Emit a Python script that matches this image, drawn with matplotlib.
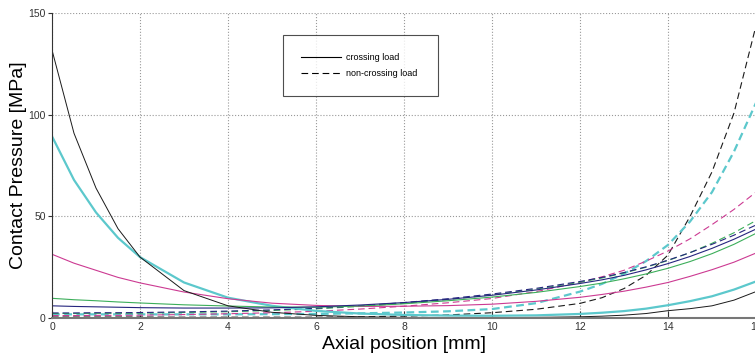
import matplotlib
matplotlib.use("Agg")
import matplotlib.pyplot as plt
from matplotlib.lines import Line2D

plt.rcParams['font.family'] = ['Liberation Sans', 'DejaVu Sans']

# Axial positions [mm]
x = [0, 0.5, 1, 1.5, 2, 3, 4, 5, 6, 7, 8, 9, 10, 11, 12, 12.5, 13, 13.5, 14, 14.5, 15, 15.5, 16]

# Crossing load (solid)
black_solid = [132, 91, 64, 44, 30, 13.5, 6, 2.8, 1.3, 0.6, 0.3, 0.2, 0.2, 0.3, 0.6, 0.9, 1.4, 2.2, 3.6, 4.6, 6.0, 8.8, 13]
cyan_solid = [89.5, 68, 52, 39.5, 30, 17.5, 10, 6, 3.5, 2.2, 1.5, 1.2, 1.1, 1.3, 2.0, 2.6, 3.4, 4.6, 6.3, 8.3, 10.7, 14, 18]
magenta_solid = [31.4, 27, 23.5, 20, 17.3, 12.8, 9.5, 7.3, 6.2, 5.7, 5.8, 6.1, 6.8, 8.2, 10.2, 11.6, 13.2, 15.2, 17.5, 20.5, 23.8, 27.5, 32]
green_solid = [9.7, 9, 8.5, 7.9, 7.4, 6.5, 5.9, 5.4, 5.3, 5.9, 7, 8.5, 10.3, 12.6, 15.5, 17.2, 19.3, 21.7, 24.5, 27.8, 31.7, 36.3, 41.7]
navy_solid = [6, 5.7, 5.5, 5.3, 5.1, 4.9, 4.9, 5, 5.5, 6.4, 7.6, 9.2, 11.2, 13.8, 17, 18.8, 21, 23.7, 26.8, 30.3, 34.3, 38.8, 43.8]

# Non-crossing load (dashed)
black_dashed = [0.5, 0.5, 0.5, 0.5, 0.5, 0.4, 0.4, 0.4, 0.4, 0.6, 0.9, 1.5, 2.6, 4.3, 7.2, 10, 14.5, 21, 31, 50, 72, 101, 144]
cyan_dashed = [1.8, 1.8, 1.8, 1.8, 1.8, 1.8, 1.8, 1.9, 2.0, 2.3, 2.7, 3.3, 4.4, 7.3, 13, 16.8, 21.8, 28, 36, 47.5, 62, 82, 106]
magenta_dashed = [1.2, 1.2, 1.3, 1.3, 1.4, 1.7, 2.1, 2.6, 3.3, 4.4, 5.8, 7.5, 9.6, 13, 17.5, 20.3, 23.5, 28, 33, 39, 46, 53.5, 62]
green_dashed = [2.2, 2.2, 2.3, 2.3, 2.4, 2.7, 3.1, 3.7, 4.5, 5.7, 7.2, 9.1, 11.4, 14.2, 17.6, 19.7, 22.2, 25, 28.3, 32.2, 36.8, 42, 48]
navy_dashed = [2.5, 2.5, 2.6, 2.6, 2.7, 3.0, 3.4, 4.0, 4.8, 6.0, 7.6, 9.5, 11.8, 14.6, 18, 20, 22.4, 25.2, 28.5, 32.2, 36.3, 40.8, 45.8]

xticks = [0, 2, 4, 6, 8, 10, 12, 14, 16]
yticks = [0, 50, 100, 150]

C_BLACK = '#1a1a1a'
C_CYAN = '#5cc8cc'
C_MAG = '#cc3a92'
C_GREEN = '#3cae5a'
C_NAVY = '#26267e'

fig = plt.figure(figsize=(7.55, 3.54), dpi=100)
ax = fig.add_axes([52/755, 36/354, 704/755, 304.5/354])

series = [
    (black_dashed, C_BLACK, '--', 0.8),
    (cyan_dashed, C_CYAN, '--', 1.6),
    (magenta_dashed, C_MAG, '--', 0.8),
    (green_dashed, C_GREEN, '--', 0.8),
    (navy_dashed, C_NAVY, '--', 0.8),
    (cyan_solid, C_CYAN, '-', 1.6),
    (magenta_solid, C_MAG, '-', 0.8),
    (green_solid, C_GREEN, '-', 0.8),
    (navy_solid, C_NAVY, '-', 0.8),
    (black_solid, C_BLACK, '-', 0.7),
]
for ys, c, ls, lw in series:
    if ls == '--':
        d = (3.5, 2) if lw > 1 else (6, 3.5)
        ax.plot(x, ys, color=c, linestyle=ls, linewidth=lw, dashes=d)
    else:
        ax.plot(x, ys, color=c, linestyle=ls, linewidth=lw)

ax.set_xlim(0, 16)
ax.set_ylim(0, 150)
ax.set_xticks(xticks)
ax.set_yticks(yticks)
ax.tick_params(axis='both', labelsize=7.5, labelcolor='#333333', colors='#333333')
ax.tick_params(axis='x', direction='in', length=5, pad=3)
ax.tick_params(axis='y', direction='out', length=3, pad=1.5)
ax.grid(True, linestyle=':', color='#999999', linewidth=0.8)
for s in ['top', 'right']:
    ax.spines[s].set_visible(False)
ax.spines['left'].set_color('#333333')
ax.spines['bottom'].set_color('#777777')
ax.spines['bottom'].set_linewidth(1.5)

ax.set_xlabel('Axial position [mm]', fontsize=14, labelpad=2.5)
ax.set_ylabel('Contact Pressure [MPa]', fontsize=14)
ax.yaxis.set_label_coords(27/755, 1 - 165/354, transform=fig.transFigure)

handles = [Line2D([], [], color='black', linestyle='-', linewidth=0.8),
           Line2D([], [], color='black', linestyle='--', linewidth=0.8, dashes=(6, 3.5))]
leg = ax.legend(handles, ['crossing load', 'non-crossing load'], loc='upper left',
                bbox_to_anchor=(283/755, (354 - 94)/354, 155/755, 59/354),
                bbox_transform=fig.transFigure, mode='expand',
                fontsize=6.5, frameon=True, fancybox=False, edgecolor='#222222',
                handlelength=4.4, handletextpad=0.6, labelspacing=0.8,
                borderpad=2.0, borderaxespad=0)
leg.get_frame().set_linewidth(0.8)

fig.savefig('out.png', dpi=100)
